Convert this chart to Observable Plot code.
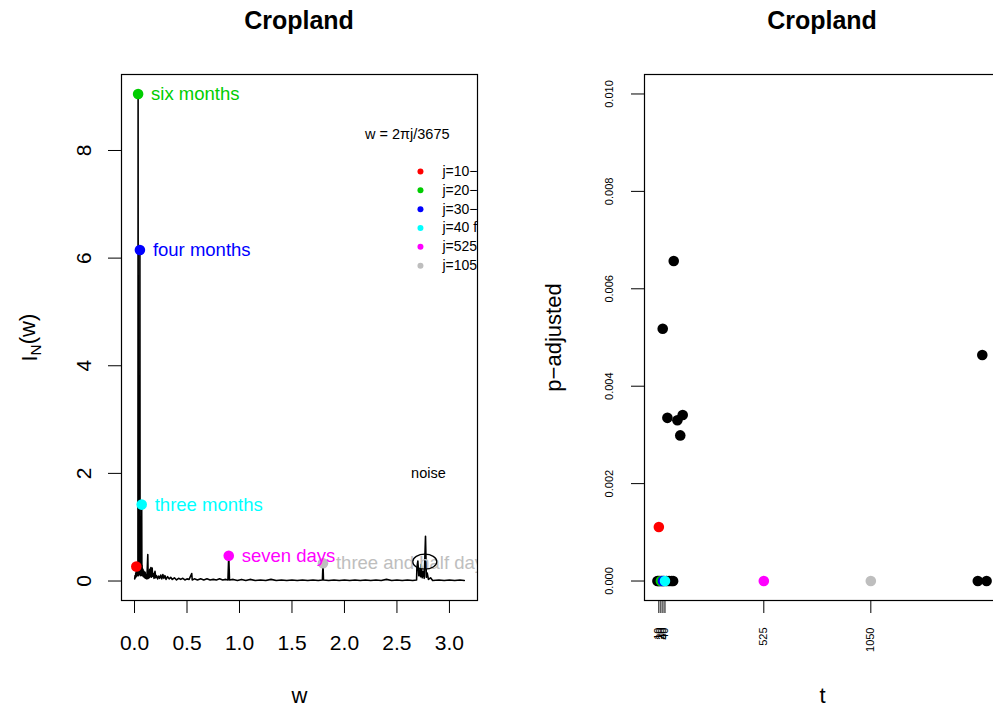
<!DOCTYPE html>
<html><head><meta charset="utf-8">
<script src="https://cdn.jsdelivr.net/npm/d3@7"></script>
<script src="https://cdn.jsdelivr.net/npm/@observablehq/plot@0.6"></script>
<style>
html,body{margin:0;padding:0;background:#fff;overflow:hidden}
#wrap{position:relative;width:993px;height:713px;overflow:hidden;background:#fff;font-family:"Liberation Sans",Arial,Helvetica,sans-serif}
.panel{position:absolute;top:0}
.title{height:40px;line-height:40px;font-size:25px;font-weight:bold;text-align:center;width:356px;color:#000}
.panel svg{display:block;max-width:none !important}
</style></head><body>
<div id="wrap">
  <div class="panel" id="left" style="left:0px;width:497px"><div class="title" style="margin-left:121px">Cropland</div></div>
  <div class="panel" id="right" style="left:497px;width:520px"><div class="title" style="margin-left:147px">Cropland</div></div>
</div>
<script>
// ---------- Left panel: periodogram ----------
const periodW = [0.0017,0.0051,0.0086,0.0120,0.0154,0.0171,0.0205,0.0240,0.0274,0.0308,0.0325,0.0342,0.0359,0.0393,0.0427,0.0462,0.0496,0.0513,0.0530,0.0564,0.0599,0.0633,0.0667,0.0684,0.0701,0.0718,0.0752,0.0800,0.0850,0.0900,0.0960,0.1010,0.1070,0.1120,0.1180,0.1265,0.1300,0.1350,0.1400,0.1450,0.1500,0.1560,0.1620,0.1680,0.1730,0.1800,0.1860,0.1950,0.2020,0.2100,0.2200,0.2300,0.2400,0.2500,0.2600,0.2700,0.2800,0.2900,0.3000,0.3150,0.3300,0.3450,0.3600,0.3800,0.4000,0.4200,0.4400,0.4600,0.4800,0.5000,0.5200,0.5450,0.5500,0.5700,0.6000,0.6300,0.6600,0.6900,0.7200,0.7500,0.7800,0.8100,0.8400,0.8700,0.8900,0.8976,0.9050,0.9400,0.9800,1.0200,1.0600,1.1000,1.1500,1.2000,1.2500,1.3000,1.3500,1.4000,1.4500,1.5000,1.5500,1.6000,1.6500,1.7000,1.7500,1.7900,1.7953,1.8000,1.8500,1.9000,1.9500,2.0000,2.0500,2.1000,2.1500,2.2000,2.2500,2.3000,2.3500,2.4000,2.4500,2.5000,2.5500,2.6000,2.6500,2.6870,2.6900,2.6990,2.7080,2.7180,2.7240,2.7310,2.7400,2.7500,2.7600,2.7720,2.7800,2.7880,2.8000,2.8200,2.8400,2.9000,2.9500,3.0000,3.0500,3.1000,3.1416];
const periodI = [0.04,0.10,0.06,0.15,0.08,0.27,0.12,0.18,0.10,0.15,0.12,9.05,0.20,0.10,0.25,0.12,0.18,6.15,0.15,0.22,0.10,0.20,0.12,1.42,0.15,0.30,0.10,0.22,0.08,0.18,0.06,0.16,0.05,0.12,0.04,0.49,0.05,0.15,0.06,0.22,0.08,0.25,0.07,0.24,0.09,0.14,0.05,0.18,0.06,0.10,0.04,0.09,0.05,0.11,0.04,0.12,0.05,0.10,0.03,0.08,0.04,0.07,0.03,0.06,0.02,0.05,0.03,0.05,0.02,0.04,0.03,0.14,0.02,0.04,0.02,0.04,0.02,0.04,0.02,0.03,0.02,0.04,0.02,0.03,0.02,0.47,0.02,0.03,0.01,0.03,0.01,0.03,0.01,0.02,0.01,0.03,0.01,0.02,0.01,0.02,0.01,0.02,0.01,0.02,0.01,0.02,0.33,0.02,0.01,0.02,0.01,0.02,0.01,0.02,0.01,0.02,0.01,0.02,0.01,0.03,0.01,0.02,0.01,0.02,0.01,0.02,0.25,0.37,0.10,0.21,0.08,0.31,0.06,0.18,0.05,0.83,0.07,0.15,0.03,0.06,0.01,0.02,0.01,0.02,0.01,0.02,0.01];

const peakW = [0.0171, 0.0342, 0.0513, 0.0684, 0.8976, 1.7953];
const peakI = [0.27, 9.05, 6.15, 1.42, 0.47, 0.33];
const peakColors = ["#FF0000", "#00CD00", "#0000FF", "#00FFFF", "#FF00FF", "#BEBEBE"];
const peakLabels = ["", "six months", "four months", "three months", "seven days", "three and half days"];

const legendTitle = "w = 2\u03C0j/3675";
const legendLabels = ["j=10\u2212one year", "j=20\u2212six months", "j=30\u2212four months", "j=40 for three months", "j=525 for seven days", "j=1050 for three and half days"];

const noiseLabel = "noise";
const noiseAt = {w: 2.8, I: 2.0};
const noiseRing = {w: 2.765, I: 0.36};

const xTicksLeft = [0, 0.5, 1, 1.5, 2, 2.5, 3];
const yTicksLeft = [0, 2, 4, 6, 8];

// ---------- Right panel: adjusted p-values ----------
const tBlack = [3, 8, 14, 25, 35, 48, 60, 72, 80, 29, 52, 83, 101, 115, 127, 1575, 1597, 1618];
const pBlack = [0, 0, 0, 0, 0, 0, 0, 0, 0, 0.00518, 0.00335, 0.00657, 0.00330, 0.00299, 0.00341, 0, 0.00464, 0];
const tColor = [10, 20, 30, 40, 525, 1050];
const pColor = [0.00111, 0, 0, 0, 0, 0];
const xTicksRight = [10, 20, 30, 40, 525, 1050];
const yTicksRight = [0, 0.002, 0.004, 0.006, 0.008, 0.010];

const FONT = '"Liberation Sans", Arial, Helvetica, sans-serif';

// custom ellipse symbol for the "noise" ring
const ellipseSymbol = {
  draw(ctx, size) {
    const r = Math.sqrt(size / Math.PI), rx = r, ry = r * 0.62, k = 0.5523;
    ctx.moveTo(rx, 0);
    ctx.bezierCurveTo(rx, ry * k, rx * k, ry, 0, ry);
    ctx.bezierCurveTo(-rx * k, ry, -rx, ry * k, -rx, 0);
    ctx.bezierCurveTo(-rx, -ry * k, -rx * k, -ry, 0, -ry);
    ctx.bezierCurveTo(rx * k, -ry, rx, -ry * k, rx, 0);
    ctx.closePath();
  }
};

const period = periodW.map((w, i) => ({w, I: periodI[i]}));
const peaks = peakW.map((w, i) => ({w, I: peakI[i], c: peakColors[i], label: peakLabels[i]}));
const legendStep = 0.35;
const legendRows = legendLabels.map((label, i) => ({label, c: peakColors[i], wDot: 2.724, wText: 2.934, I: 7.61 - i * legendStep}));

const left = Plot.plot({
  width: 497, height: 673,
  marginLeft: 121, marginRight: 20, marginTop: 34, marginBottom: 113,
  style: {fontFamily: FONT, fontSize: "21px", color: "black", background: "white", overflow: "visible"},
  x: {domain: [-0.1240, 3.2673]},
  y: {domain: [-0.362, 9.412]},
  marks: [
    Plot.line(period, {x: "w", y: "I", stroke: "black", strokeWidth: 1.6, clip: true}),
    Plot.dot(peaks, {x: "w", y: "I", fill: "c", r: 5.3, clip: true}),
    Plot.text(peaks.filter(d => d.label), {x: "w", y: "I", text: "label", fill: "c", dx: 13, textAnchor: "start", fontSize: 18.5, clip: true}),
    Plot.text([legendTitle], {x: 2.598, y: 8.30, text: d => d, fontSize: 14.5, clip: true}),
    Plot.dot(legendRows, {x: "wDot", y: "I", fill: "c", r: 3, clip: true}),
    Plot.text(legendRows, {x: "wText", y: "I", text: "label", fontSize: 14, textAnchor: "start", clip: true}),
    Plot.text([noiseAt], {x: "w", y: "I", text: () => noiseLabel, fontSize: 14.5, clip: true}),
    Plot.dot([noiseRing], {x: "w", y: "I", r: 12, symbol: ellipseSymbol, stroke: "black", fill: "none", strokeWidth: 1.2, clip: true}),
    Plot.frame({stroke: "black", strokeWidth: 1.2}),
    Plot.axisX({ticks: xTicksLeft, tickFormat: d3.format(".1f"), tickSize: 13, tickPadding: 22, fontSize: 21, label: null}),
    Plot.axisY({ticks: yTicksLeft, tickFormat: d3.format("d"), tickSize: 13, tickPadding: 18, tickRotate: -90, fontSize: 21, label: null}),
    Plot.text(["w"], {frameAnchor: "bottom", dy: 102, lineAnchor: "bottom", fontSize: 22}),
    Plot.text(["I_N(w)"], {frameAnchor: "left", dx: -85, dy: 24, rotate: -90, textAnchor: "start", lineAnchor: "bottom", fontSize: 22})
  ]
});
document.getElementById("left").appendChild(left);

// subscript N in the y-axis title
d3.select(left).selectAll("text").filter(function() { return this.textContent === "I_N(w)"; }).each(function() {
  const t = d3.select(this);
  t.text(null);
  t.append("tspan").text("I");
  t.append("tspan").attr("dy", "0.3em").attr("font-size", "0.7em").text("N");
  t.append("tspan").attr("dy", "-0.3em").text("(w)");
});

const blacks = tBlack.map((t, i) => ({t, p: pBlack[i]}));
const colored = tColor.map((t, i) => ({t, p: pColor[i], c: peakColors[i]}));

const right = Plot.plot({
  width: 520, height: 673,
  marginLeft: 147, marginRight: 17, marginTop: 34, marginBottom: 113,
  style: {fontFamily: FONT, fontSize: "11px", color: "black", background: "white", overflow: "visible"},
  x: {domain: [-60.4, 1686.3]},
  y: {domain: [-0.0004, 0.0104]},
  marks: [
    Plot.dot(blacks, {x: "t", y: "p", fill: "black", r: 5.3}),
    Plot.dot(colored, {x: "t", y: "p", fill: "c", r: 5.3}),
    Plot.frame({stroke: "black", strokeWidth: 1.2}),
    Plot.axisX({ticks: xTicksRight, tickFormat: d3.format("d"), tickSize: 13, tickPadding: 14, tickRotate: -90, fontSize: 11, label: null}),
    Plot.axisY({ticks: yTicksRight, tickFormat: d3.format(".3f"), tickSize: 13, tickPadding: 19, tickRotate: -90, fontSize: 11, label: null}),
    Plot.text(["t"], {frameAnchor: "bottom", dy: 102, lineAnchor: "bottom", fontSize: 22}),
    Plot.text(["p\u2212adjusted"], {frameAnchor: "left", dx: -84, rotate: -90, textAnchor: "middle", lineAnchor: "bottom", fontSize: 22})
  ]
});
document.getElementById("right").appendChild(right);
</script>
</body></html>
